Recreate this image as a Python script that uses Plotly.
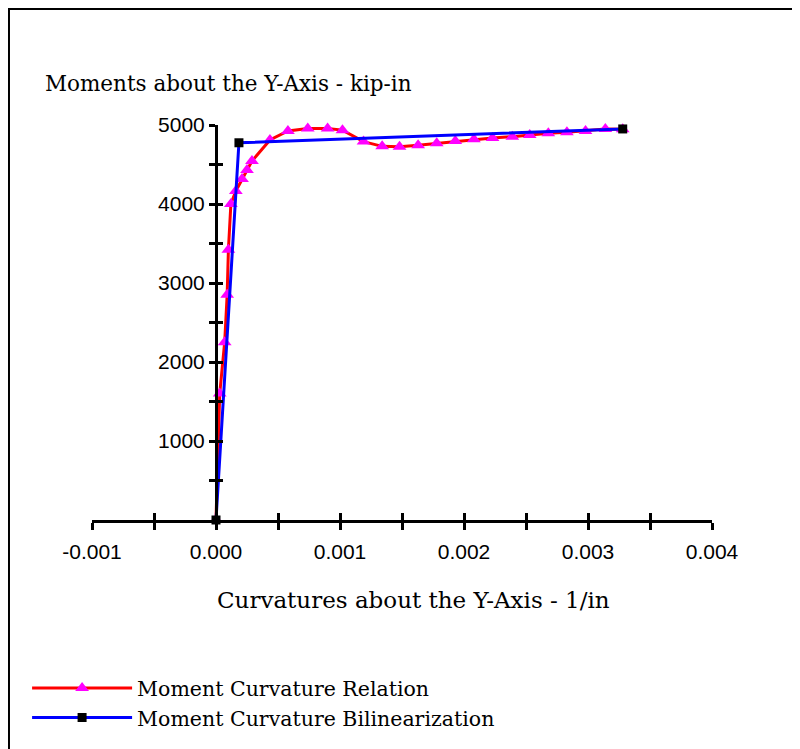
import plotly.graph_objects as go

# ---- data ----
mc_curv = [0.0, 0.00003, 0.00007, 0.00009, 0.0001, 0.00012, 0.00016, 0.00021,
           0.00025, 0.00029, 0.000435, 0.00058, 0.00074, 0.0009, 0.00102,
           0.00119, 0.00134, 0.00148, 0.00163, 0.00178, 0.00193, 0.00208,
           0.00223, 0.00239, 0.00253, 0.00268, 0.00283, 0.00298, 0.00314, 0.00328]
mc_moment = [0, 1600, 2250, 2850, 3420, 4000, 4165, 4316,
             4430, 4544, 4810, 4924, 4955, 4955, 4935,
             4790, 4730, 4725, 4745, 4768, 4797, 4820,
             4835, 4852, 4873, 4895, 4907, 4924, 4950, 4945]

bl_curv = [0.0, 0.000185, 0.00328]
bl_moment = [0, 4775, 4950]

x_tick_vals = [-0.001, -0.0005, 0.0, 0.0005, 0.001, 0.0015, 0.002, 0.0025, 0.003, 0.0035, 0.004]
x_tick_text = ["-0.001", "", "0.000", "", "0.001", "", "0.002", "", "0.003", "", "0.004"]
y_tick_vals = [500, 1000, 1500, 2000, 2500, 3000, 3500, 4000, 4500, 5000]
y_tick_text = ["", "1000", "", "2000", "", "3000", "", "4000", "", "5000"]

x_range = [-0.001, 0.004]
y_range = [0, 5000]

serif = "DejaVu Serif, Liberation Serif, serif"
sans = "Liberation Sans, Arial, sans-serif"

fig = go.Figure()
fig.add_trace(go.Scatter(
    x=mc_curv, y=mc_moment, mode="lines+markers",
    name="Moment Curvature Relation",
    line=dict(color="#FF0000", width=3),
    marker=dict(symbol="triangle-up", color="#FF00FF", size=12, line=dict(width=0)),
    cliponaxis=False,
))
fig.add_trace(go.Scatter(
    x=bl_curv, y=bl_moment, mode="lines+markers",
    name="Moment Curvature Bilinearization",
    line=dict(color="#0000FF", width=3),
    marker=dict(symbol="square", color="#000000", size=9, line=dict(width=0)),
    cliponaxis=False,
))

y_pos = (0 - x_range[0]) / (x_range[1] - x_range[0])

common_x = dict(range=x_range, tickmode="array", tickvals=x_tick_vals,
                showgrid=False, zeroline=False, tickcolor="black",
                ticklen=7, tickwidth=3)
common_y = dict(range=y_range, tickmode="array", tickvals=y_tick_vals,
                showgrid=False, zeroline=False, tickcolor="black",
                ticklen=6, tickwidth=3)

fig.update_layout(
    width=792, height=741,
    margin=dict(l=84, r=88, t=117, b=229, autoexpand=False),
    paper_bgcolor="white", plot_bgcolor="white",
    font=dict(family=serif, size=20, color="black"),
    xaxis=dict(**common_x, ticktext=x_tick_text, ticks="outside",
               showline=True, linecolor="black", linewidth=3,
               tickfont=dict(family=sans, size=21, color="black"),
               ticklabelstandoff=4),
    xaxis2=dict(**common_x, overlaying="x", anchor="y", side="bottom",
                ticks="inside", showticklabels=False, showline=False),
    yaxis=dict(**common_y, ticktext=y_tick_text, ticks="outside",
               anchor="free", position=y_pos,
               showline=True, linecolor="black", linewidth=3,
               tickfont=dict(family=sans, size=21, color="black")),
    yaxis2=dict(**common_y, overlaying="y", anchor="free", position=y_pos,
                ticks="inside", showticklabels=False, showline=False),
    legend=dict(x=-0.1047, y=-0.375, xanchor="left", yanchor="top",
                font=dict(family=serif, size=20.5, color="black"),
                itemwidth=100, tracegroupgap=0, bgcolor="rgba(0,0,0,0)"),
    annotations=[
        dict(text="Moments about the Y-Axis - kip-in", xref="paper", yref="paper",
             x=-0.079, y=1.104, xanchor="left", yanchor="middle", showarrow=False,
             font=dict(family=serif, size=21.5, color="black")),
        dict(text="Curvatures about the Y-Axis - 1/in", xref="paper", yref="paper",
             x=0.519, y=-0.2025, xanchor="center", yanchor="middle", showarrow=False,
             font=dict(family=serif, size=23, color="black")),
    ],
    shapes=[
        dict(type="rect", xref="paper", yref="paper",
             x0=-0.1339, x1=1.1323, y0=-0.62, y1=1.2937,
             line=dict(color="black", width=2), fillcolor="rgba(0,0,0,0)", layer="below"),
    ],
)

# invisible trace so the overlay axes (crossing ticks) render
fig.add_trace(go.Scatter(x=[None], y=[None], xaxis="x2", yaxis="y2",
                         showlegend=False, hoverinfo="skip"))

fig.write_html("out.html")
